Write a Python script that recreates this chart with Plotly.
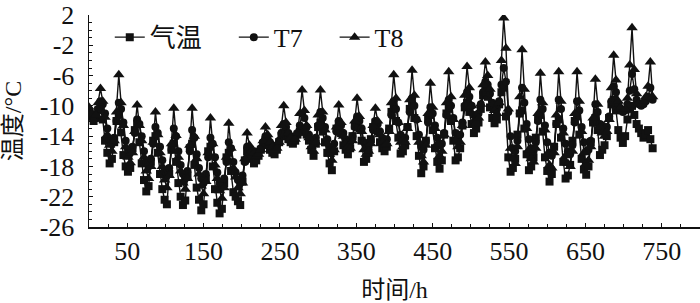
import plotly.graph_objects as go

# hourly axis sampled every 3 h
HOURS = list(range(0, 741, 3))

AIR_TEMP = [
    -10.8, -11.4, -12.0, -11.5, -10.6, -10.2, -11.8, -14.6,
    -16.2, -17.6, -17.0, -14.8, -12.0, -11.2, -13.5, -16.5,
    -18.0, -18.7, -18.2, -15.6, -13.2, -12.4, -14.8, -17.6,
    -19.8, -21.3, -20.6, -17.4, -14.6, -14.0, -16.2, -19.0,
    -21.0, -22.4, -23.0, -19.0, -15.8, -15.0, -17.4, -20.2,
    -22.0, -23.1, -22.5, -19.2, -15.6, -15.0, -17.8, -20.8,
    -22.4, -23.8, -23.0, -19.6, -16.0, -15.4, -18.0, -21.0,
    -22.8, -24.2, -23.6, -20.2, -16.8, -16.2, -18.6, -21.4,
    -22.0, -22.6, -23.1, -20.0, -17.2, -16.0, -16.4, -17.0,
    -17.6, -17.2, -16.6, -15.8, -15.0, -14.6, -15.2, -15.8,
    -16.2, -16.4, -15.8, -14.8, -14.0, -13.6, -14.0, -14.4,
    -14.8, -15.0, -14.6, -13.8, -13.4, -13.0, -13.4, -13.8,
    -14.6, -15.8, -16.6, -15.0, -12.8, -12.2, -13.4, -14.8,
    -16.2, -17.6, -18.5, -16.0, -13.0, -12.4, -13.6, -15.2,
    -15.8, -16.4, -15.6, -14.0, -12.6, -12.0, -13.0, -14.6,
    -17.4, -17.0, -16.2, -14.4, -12.8, -12.2, -13.4, -14.8,
    -15.6, -16.0, -15.4, -13.0, -10.8, -10.2, -12.0, -14.2,
    -16.3, -16.0, -15.2, -12.8, -10.4, -9.8, -11.6, -14.0,
    -16.6, -18.9, -18.0, -14.6, -11.8, -11.2, -13.2, -15.6,
    -17.4, -18.3, -17.2, -13.8, -11.0, -10.4, -12.0, -14.6,
    -17.2, -16.8, -15.6, -12.6, -10.2, -9.6, -10.8, -12.4,
    -13.6, -13.0, -12.2, -10.4, -8.6, -8.0, -8.8, -10.2,
    -11.6, -12.3, -11.8, -9.8, -8.2, -7.6, -11.4, -16.8,
    -18.7, -18.2, -17.0, -13.8, -11.0, -10.6, -13.0, -16.4,
    -18.5, -18.0, -16.8, -14.2, -11.8, -11.2, -13.4, -16.8,
    -18.6, -20.0, -19.0, -15.4, -12.4, -11.8, -14.2, -17.4,
    -19.6, -19.2, -17.8, -14.6, -12.0, -11.4, -13.8, -17.0,
    -18.4, -19.1, -18.0, -14.8, -12.2, -11.6, -13.2, -16.5,
    -15.8, -15.2, -14.0, -11.6, -9.8, -9.2, -10.6, -13.2,
    -14.2, -14.9, -14.0, -11.8, -10.4, -10.0, -11.2, -12.4,
    -13.0, -13.6, -14.2, -13.8, -13.2, -14.4, -15.6,
]

T7 = [
    -10.6, -11.0, -11.4, -11.2, -10.4, -9.4, -9.8, -11.0,
    -13.0, -14.4, -15.0, -14.2, -12.0, -9.6, -10.4, -12.2,
    -14.6, -15.8, -16.2, -15.4, -13.6, -11.8, -12.4, -14.0,
    -16.0, -17.4, -18.0, -17.0, -15.0, -12.8, -13.6, -15.4,
    -17.2, -18.6, -19.2, -18.2, -15.8, -13.0, -14.0, -16.0,
    -17.8, -19.0, -19.6, -18.6, -16.0, -13.2, -14.2, -16.4,
    -18.2, -19.6, -20.2, -19.0, -16.8, -14.2, -15.0, -16.8,
    -18.8, -20.2, -20.6, -19.6, -17.4, -14.8, -15.6, -17.4,
    -18.8, -19.8, -20.2, -19.2, -17.4, -15.4, -15.6, -16.0,
    -16.0, -16.2, -16.0, -15.6, -14.8, -14.0, -14.4, -14.8,
    -15.2, -15.4, -15.2, -14.6, -13.6, -12.4, -12.8, -13.6,
    -14.0, -14.2, -14.0, -13.6, -12.6, -11.0, -11.6, -12.8,
    -13.8, -14.6, -15.0, -14.2, -12.6, -10.8, -11.6, -12.8,
    -14.4, -15.6, -16.0, -15.0, -13.4, -12.0, -12.6, -13.6,
    -14.4, -14.8, -14.8, -14.0, -12.8, -11.4, -12.0, -13.0,
    -14.8, -15.6, -15.4, -14.6, -13.2, -12.0, -12.4, -13.4,
    -14.2, -14.6, -14.4, -13.2, -11.2, -9.4, -10.4, -12.2,
    -13.8, -14.4, -14.2, -12.8, -10.8, -9.0, -10.0, -11.8,
    -13.8, -15.4, -15.8, -14.6, -12.2, -10.2, -11.0, -12.6,
    -14.2, -15.2, -15.0, -13.6, -11.2, -9.2, -10.0, -11.6,
    -13.6, -14.2, -13.8, -12.2, -10.0, -8.2, -8.8, -10.0,
    -11.2, -11.4, -11.0, -9.8, -8.2, -6.8, -7.2, -8.4,
    -9.6, -10.2, -10.4, -9.4, -7.2, -5.0, -6.8, -10.8,
    -14.0, -15.6, -16.0, -14.6, -11.0, -7.6, -9.6, -12.4,
    -14.4, -15.6, -16.0, -14.8, -12.0, -9.2, -10.4, -12.6,
    -14.8, -16.2, -16.6, -15.4, -12.4, -9.2, -10.4, -13.0,
    -15.0, -16.0, -16.4, -15.2, -12.2, -9.4, -10.6, -12.8,
    -14.8, -16.0, -15.8, -14.6, -12.2, -9.8, -10.8, -12.4,
    -12.6, -13.2, -12.8, -11.4, -9.4, -7.4, -8.2, -9.8,
    -10.4, -10.8, -10.6, -9.8, -8.0, -5.8, -7.8, -9.2,
    -9.8, -10.0, -9.8, -9.4, -8.8, -7.6, -9.2,
]

T8 = [
    -10.2, -11.0, -11.8, -11.2, -9.6, -7.7, -9.4, -11.5,
    -13.8, -15.2, -16.0, -14.6, -10.8, -5.9, -9.6, -12.6,
    -15.4, -16.8, -17.5, -16.2, -13.4, -9.9, -12.6, -14.6,
    -16.8, -18.6, -19.6, -18.0, -14.8, -10.8, -13.8, -16.2,
    -18.0, -19.8, -20.8, -19.2, -15.0, -10.3, -13.9, -16.8,
    -18.6, -20.2, -21.0, -19.6, -15.2, -10.3, -14.0, -17.0,
    -19.0, -20.6, -21.6, -20.0, -16.2, -11.6, -15.0, -17.8,
    -19.6, -21.2, -22.2, -20.8, -16.8, -12.3, -15.6, -18.2,
    -19.4, -20.8, -21.6, -20.2, -17.0, -13.6, -15.2, -16.0,
    -16.2, -16.6, -16.4, -15.8, -14.6, -12.8, -13.8, -14.8,
    -15.4, -15.8, -15.6, -14.8, -12.6, -10.0, -12.2, -13.6,
    -14.2, -14.6, -14.4, -13.6, -11.0, -7.9, -10.6, -12.6,
    -14.2, -15.4, -16.0, -14.8, -11.2, -7.9, -10.8, -13.2,
    -15.0, -16.4, -17.2, -15.8, -12.8, -9.9, -12.2, -14.0,
    -15.0, -15.4, -15.6, -14.6, -12.0, -9.0, -11.4, -13.4,
    -15.8, -16.4, -16.0, -15.0, -12.6, -10.3, -12.0, -13.8,
    -14.8, -15.2, -15.0, -13.4, -9.6, -5.9, -9.0, -12.2,
    -14.8, -15.4, -14.8, -13.0, -9.2, -5.3, -8.6, -11.8,
    -14.8, -16.6, -17.4, -15.2, -11.0, -7.0, -10.2, -13.0,
    -15.0, -16.6, -16.0, -13.8, -9.6, -5.5, -8.8, -11.8,
    -14.6, -15.4, -14.8, -12.6, -8.6, -4.8, -7.6, -10.0,
    -12.0, -12.2, -11.6, -9.8, -7.2, -4.2, -6.0, -7.8,
    -9.8, -10.6, -11.0, -9.6, -4.0, 1.6, -2.4, -10.4,
    -15.6, -17.0, -17.6, -15.4, -8.8, -2.6, -7.8, -13.0,
    -15.8, -17.0, -17.4, -15.6, -11.0, -5.7, -9.6, -13.2,
    -16.4, -17.8, -18.2, -16.2, -11.2, -5.5, -9.4, -13.6,
    -16.6, -17.6, -18.0, -16.0, -11.0, -5.5, -9.4, -13.4,
    -16.2, -17.6, -17.2, -15.4, -11.6, -6.5, -9.8, -12.8,
    -13.6, -14.0, -13.4, -11.8, -7.6, -3.3, -6.6, -9.4,
    -10.2, -10.6, -10.4, -9.0, -4.6, 0.3, -5.2, -8.4,
    -9.6, -9.8, -9.4, -8.8, -7.4, -4.2, -8.8,
]

SERIES_NAMES = ["气温", "T7", "T8"]
X_TICK_LABELS = [50, 150, 250, 350, 450, 550, 650, 750]
Y_TICK_LABELS = [2, -2, -6, -10, -14, -18, -22, -26]
X_TITLE = "时间/h"
Y_TITLE = "温度/°C"

INK = "#111111"
FONT = "Liberation Serif, Times New Roman, Noto Sans CJK SC, serif"
FS = 26

series = [AIR_TEMP, T7, T8]
symbols = ["square", "circle", "triangle-up"]
sizes = [8, 8, 10]
legends = ["legend", "legend2", "legend3"]

fig = go.Figure()
for name, vals, sym, sz, lg in zip(SERIES_NAMES, series, symbols, sizes, legends):
    fig.add_trace(go.Scatter(
        x=HOURS, y=vals, name=name, mode="lines+markers",
        line=dict(color=INK, width=1.4),
        marker=dict(symbol=sym, size=sz, color=INK),
        legend=lg, showlegend=True,
    ))

leg_common = dict(
    orientation="h", yanchor="middle", xanchor="left", y=0.895,
    bgcolor="rgba(0,0,0,0)", borderwidth=0,
    font=dict(family=FONT, size=FS, color=INK),
)

fig.update_layout(
    width=700, height=303,
    showlegend=True,
    margin=dict(l=89, r=0, t=15, b=76, autoexpand=False),
    paper_bgcolor="white", plot_bgcolor="white",
    font=dict(family=FONT, size=FS, color=INK),
    legend=dict(x=0.034, **leg_common),
    legend2=dict(x=0.237, **leg_common),
    legend3=dict(x=0.402, **leg_common),
    xaxis=dict(
        range=[0, 800], showgrid=False, zeroline=False, automargin=False,
        showline=True, linecolor=INK, linewidth=1.5,
        tickmode="array", tickvals=X_TICK_LABELS,
        ticktext=[str(v) for v in X_TICK_LABELS],
        ticks="inside", ticklen=4, tickcolor=INK, tickwidth=1,
        minor=dict(dtick=25, tick0=0, ticks="inside", ticklen=3,
                   tickcolor=INK, tickwidth=1),
        tickfont=dict(family=FONT, size=FS, color=INK),
        title=dict(text=X_TITLE, font=dict(family=FONT, size=24, color=INK),
                   standoff=18),
    ),
    yaxis=dict(
        range=[-26, 2], showgrid=False, zeroline=False, automargin=False,
        showline=True, linecolor=INK, linewidth=1.5,
        tickmode="array", tickvals=Y_TICK_LABELS,
        ticktext=[str(v) for v in Y_TICK_LABELS],
        ticks="inside", ticklen=4, tickcolor=INK, tickwidth=1,
        minor=dict(dtick=1, tick0=0, ticks="inside", ticklen=3,
                   tickcolor=INK, tickwidth=1),
        tickfont=dict(family=FONT, size=FS, color=INK),
        ticklabelstandoff=8, ticklabeloverflow="allow",
        title=dict(text=Y_TITLE, font=dict(family=FONT, size=24, color=INK),
                   standoff=12),
    ),
)

# remove the browser's default 8px body margin so the figure fills the window
fig.write_html(
    "out.html",
    config={"displayModeBar": False, "staticPlot": True},
    post_script="document.body.style.margin='0';",
)
